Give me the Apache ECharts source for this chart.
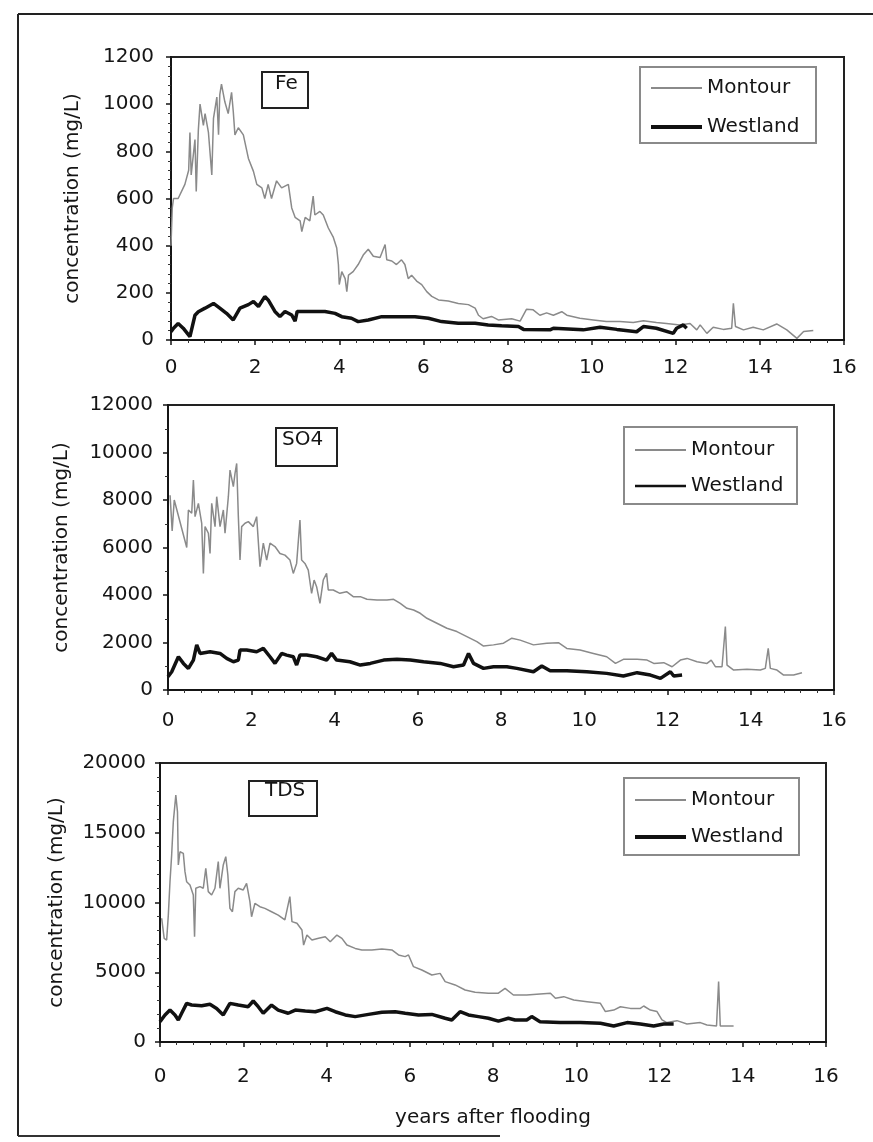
<!DOCTYPE html>
<html>
<head>
<meta charset="utf-8">
<script src="https://cdn.jsdelivr.net/npm/echarts@6/dist/echarts.min.js"></script>
<style>
  body { margin: 0; background: #fff; }
  #chart { width: 873px; height: 1142px; }
</style>
</head>
<body>
<div id="chart"></div>
<script>
// panels, top to bottom
var panelNames = ['Fe', 'SO4', 'TDS'];
var seriesNames = ['Montour', 'Westland'];
var xTicks = [0, 2, 4, 6, 8, 10, 12, 14, 16];
var yMax = [1200, 12000, 20000];
var yStep = [200, 2000, 5000];

// [years after flooding, mg/L]
var feMontour = [[0,400],[0.03,560],[0.06,600],[0.17,600],[0.33,660],[0.42,720],[0.45,880],[0.48,700],[0.57,850],[0.6,630],[0.65,890],[0.69,1000],[0.77,910],[0.81,960],[0.89,880],[0.97,700],[1.01,940],[1.09,1030],[1.13,870],[1.16,1040],[1.2,1085],[1.28,1010],[1.36,960],[1.44,1050],[1.48,970],[1.52,870],[1.6,900],[1.72,870],[1.84,770],[1.96,715],[2.04,660],[2.16,645],[2.23,600],[2.31,660],[2.39,600],[2.51,675],[2.63,645],[2.79,660],[2.87,560],[2.95,520],[3.07,505],[3.11,460],[3.19,520],[3.3,505],[3.38,610],[3.42,530],[3.54,545],[3.62,530],[3.74,475],[3.86,435],[3.94,390],[3.98,320],[4.0,235],[4.06,290],[4.14,260],[4.18,205],[4.22,275],[4.33,290],[4.45,320],[4.57,360],[4.69,385],[4.81,355],[4.97,350],[5.09,405],[5.13,340],[5.25,335],[5.36,320],[5.48,340],[5.56,320],[5.64,260],[5.72,275],[5.84,250],[5.96,235],[6.08,205],[6.2,185],[6.36,170],[6.59,165],[6.83,155],[7.07,150],[7.23,135],[7.31,105],[7.42,90],[7.62,100],[7.78,85],[8.1,90],[8.3,80],[8.45,130],[8.61,128],[8.77,105],[8.93,115],[9.09,105],[9.29,120],[9.41,105],[9.72,92],[10.04,85],[10.35,78],[10.67,78],[10.99,74],[11.23,82],[11.54,74],[11.78,70],[12.1,64],[12.34,70],[12.5,43],[12.58,64],[12.74,28],[12.89,54],[13.13,45],[13.33,50],[13.37,156],[13.42,57],[13.61,43],[13.84,54],[14.08,43],[14.4,68],[14.64,43],[14.88,7],[15.04,36],[15.27,40]];
var feWestland = [[0,35],[0.06,50],[0.17,70],[0.29,50],[0.45,14],[0.57,105],[0.65,120],[0.81,135],[1.01,155],[1.16,135],[1.32,113],[1.48,85],[1.64,135],[1.84,150],[1.96,163],[2.08,142],[2.23,184],[2.31,170],[2.47,121],[2.59,99],[2.71,121],[2.87,106],[2.95,80],[3.0,121],[3.11,121],[3.34,121],[3.66,121],[3.9,113],[4.06,99],[4.29,92],[4.45,78],[4.69,85],[5.01,99],[5.4,99],[5.8,99],[6.12,92],[6.43,78],[6.83,71],[7.23,71],[7.54,64],[7.86,60],[8.26,57],[8.38,45],[9.01,43],[9.09,50],[9.8,43],[10.2,54],[10.6,45],[11.07,35],[11.23,57],[11.54,50],[11.94,28],[12.02,50],[12.18,64],[12.26,50]];

var so4Montour = [[0.05,8200],[0.1,6700],[0.15,8000],[0.45,6000],[0.49,7580],[0.57,7440],[0.61,8840],[0.65,7300],[0.73,7860],[0.81,7020],[0.85,4910],[0.89,6880],[0.97,6600],[1.01,5750],[1.05,7860],[1.13,6880],[1.17,8140],[1.25,6880],[1.33,7580],[1.37,6600],[1.45,8140],[1.49,9260],[1.57,8560],[1.61,9120],[1.65,9540],[1.69,7300],[1.73,5470],[1.77,6880],[1.85,7020],[1.93,7090],[2.05,6880],[2.13,7300],[2.21,5190],[2.29,6180],[2.37,5470],[2.45,6180],[2.57,6040],[2.69,5750],[2.81,5680],[2.93,5470],[3.01,4910],[3.09,5330],[3.17,7160],[3.21,5470],[3.29,5330],[3.37,5050],[3.45,4070],[3.51,4630],[3.57,4350],[3.65,3650],[3.73,4630],[3.81,4910],[3.85,4210],[3.97,4210],[4.13,4070],[4.29,4140],[4.45,3930],[4.62,3930],[4.78,3820],[5.02,3790],[5.26,3790],[5.42,3820],[5.58,3650],[5.74,3440],[5.9,3370],[6.06,3230],[6.22,3020],[6.46,2810],[6.7,2600],[6.94,2460],[7.18,2250],[7.42,2040],[7.58,1850],[7.82,1900],[8.06,1970],[8.26,2180],[8.46,2100],[8.78,1900],[9.1,1970],[9.38,1990],[9.58,1750],[9.9,1680],[10.22,1540],[10.54,1400],[10.75,1120],[10.94,1290],[11.27,1290],[11.51,1260],[11.67,1120],[11.91,1150],[12.11,980],[12.31,1260],[12.47,1330],[12.71,1190],[12.95,1120],[13.05,1260],[13.15,980],[13.31,980],[13.39,2670],[13.43,1050],[13.59,840],[13.91,870],[14.23,840],[14.35,910],[14.42,1750],[14.47,910],[14.63,840],[14.79,630],[15.03,630],[15.23,730]];
var so4Westland = [[0,560],[0.09,770],[0.25,1400],[0.37,1120],[0.49,910],[0.61,1260],[0.69,1900],[0.77,1540],[1.01,1610],[1.25,1540],[1.41,1330],[1.57,1190],[1.69,1260],[1.73,1680],[1.89,1680],[2.13,1610],[2.29,1750],[2.45,1400],[2.57,1120],[2.73,1540],[2.85,1470],[3.01,1400],[3.09,1050],[3.17,1470],[3.33,1470],[3.57,1400],[3.81,1260],[3.93,1540],[4.05,1260],[4.37,1190],[4.62,1050],[4.86,1120],[5.18,1260],[5.5,1290],[5.82,1260],[6.14,1190],[6.54,1120],[6.86,980],[7.1,1050],[7.22,1540],[7.34,1120],[7.58,910],[7.82,980],[8.14,980],[8.38,910],[8.78,770],[8.98,1010],[9.18,810],[9.58,810],[10.06,770],[10.54,700],[10.94,590],[11.27,730],[11.59,630],[11.83,490],[12.07,770],[12.15,590],[12.35,630]];

var tdsMontour = [[0.04,8870],[0.1,7430],[0.16,7310],[0.2,9100],[0.24,11490],[0.28,13400],[0.32,15800],[0.38,17700],[0.42,16500],[0.44,12690],[0.48,13640],[0.56,13520],[0.6,12210],[0.64,11490],[0.72,11250],[0.8,10540],[0.83,7550],[0.86,11020],[0.96,11140],[1.04,11020],[1.1,12450],[1.16,10780],[1.24,10540],[1.32,11020],[1.4,12930],[1.44,11020],[1.52,12690],[1.58,13290],[1.63,11970],[1.68,9580],[1.74,9340],[1.8,10780],[1.88,11020],[2.0,10900],[2.08,11370],[2.16,10060],[2.2,8980],[2.28,9940],[2.4,9700],[2.52,9580],[2.68,9340],[2.84,9100],[3.0,8750],[3.12,10420],[3.17,8630],[3.29,8510],[3.41,8030],[3.45,6950],[3.53,7670],[3.65,7310],[3.81,7430],[3.97,7550],[4.09,7190],[4.25,7670],[4.37,7430],[4.49,6950],[4.69,6710],[4.85,6600],[5.09,6600],[5.33,6670],[5.57,6600],[5.73,6240],[5.89,6120],[5.97,6240],[6.09,5400],[6.29,5160],[6.53,4800],[6.73,4920],[6.85,4330],[7.09,4090],[7.33,3730],[7.57,3560],[7.89,3490],[8.13,3500],[8.29,3850],[8.49,3370],[8.81,3370],[9.13,3440],[9.38,3490],[9.5,3130],[9.7,3250],[9.94,3010],[10.26,2890],[10.58,2770],[10.7,2180],[10.9,2290],[11.06,2530],[11.3,2410],[11.54,2410],[11.62,2580],[11.78,2290],[11.94,2180],[12.06,1580],[12.18,1390],[12.42,1530],[12.66,1290],[12.98,1390],[13.14,1220],[13.37,1150],[13.42,4330],[13.46,1150],[13.78,1150]];
var tdsWestland = [[0,1460],[0.12,1940],[0.24,2290],[0.36,1940],[0.44,1580],[0.52,2060],[0.64,2770],[0.76,2650],[1.0,2600],[1.2,2700],[1.36,2410],[1.52,1940],[1.68,2770],[1.88,2650],[2.12,2530],[2.24,2940],[2.36,2530],[2.48,2060],[2.68,2650],[2.84,2290],[3.08,2060],[3.25,2290],[3.49,2220],[3.73,2170],[4.01,2410],[4.21,2170],[4.45,1940],[4.69,1820],[5.01,1980],[5.33,2130],[5.65,2170],[5.89,2060],[6.21,1940],[6.53,1980],[6.85,1700],[7.01,1580],[7.21,2170],[7.41,1940],[7.65,1820],[7.89,1700],[8.13,1500],[8.37,1700],[8.53,1580],[8.81,1580],[8.93,1820],[9.13,1460],[9.61,1390],[10.1,1390],[10.58,1340],[10.9,1150],[11.22,1390],[11.54,1290],[11.86,1150],[12.1,1290],[12.34,1290]];

var panelData = [[feMontour, feWestland], [so4Montour, so4Westland], [tdsMontour, tdsWestland]];

var font = 'DejaVu Sans';
var ink = '#151515';
var grids = [
    { left: 171, top: 57, width: 673, height: 283 },
    { left: 168, top: 405, width: 666, height: 285 },
    { left: 160, top: 763, width: 666, height: 279 }
];
var xLabelMargin = [18, 21, 25];
var yLabelMargin = [17, 15, 14];
var yNameGap = [88, 96, 93];
var yMinorSplit = [5, 2, 5];
// legend frame [x, y, w, h], sample line x, row centres, sample widths
var legendBox = [[640, 67, 176, 76], [624, 427, 173, 77], [624, 778, 175, 77]];
var legendLineX = [651, 635, 635];
var legendRowY = [[88, 127], [450, 486], [800, 837]];
var legendLineH = [[2, 4], [2, 2.5], [2, 4]];
var titleBox = [
    { left: 262, top: 72, padding: [2, 11, 14, 13] },
    { left: 276, top: 428, padding: [2, 14, 16, 6] },
    { left: 249, top: 781, padding: [0, 12, 15, 16] }
];
var lineColors = ['#8a8a8a', '#111111'];
var lineWidths = [1.5, 3.5];

var chart = echarts.init(document.getElementById('chart'));

var xAxes = [], yAxes = [], series = [], legends = [], titles = [];
var frames = [
    { type: 'line', shape: { x1: 18, y1: 14, x2: 873, y2: 14 }, style: { stroke: '#222', lineWidth: 2 } },
    { type: 'line', shape: { x1: 18, y1: 14, x2: 18, y2: 1136 }, style: { stroke: '#222', lineWidth: 2 } },
    { type: 'line', shape: { x1: 18, y1: 1136, x2: 500, y2: 1136 }, style: { stroke: '#333', lineWidth: 2 } }
];

grids.forEach(function (g, i) {
    g.show = true;
    g.borderColor = '#222';
    g.borderWidth = 2;

    xAxes.push({
        gridIndex: i, type: 'value', min: 0, max: xTicks[xTicks.length - 1], interval: 2,
        name: i === 2 ? 'years after flooding' : '',
        nameLocation: 'middle', nameGap: 66,
        nameTextStyle: { fontFamily: font, fontSize: 20, color: ink },
        axisLine: { onZero: false, lineStyle: { color: ink, width: 2 } },
        axisTick: { length: 5, lineStyle: { color: ink, width: 1.5 } },
        minorTick: { show: true, splitNumber: 5, length: 3, lineStyle: { color: '#333', width: 1 } },
        splitLine: { show: false },
        axisLabel: { fontFamily: font, fontSize: 20, color: ink, margin: xLabelMargin[i] }
    });
    yAxes.push({
        gridIndex: i, type: 'value', min: 0, max: yMax[i], interval: yStep[i],
        name: 'concentration (mg/L)',
        nameLocation: 'middle', nameGap: yNameGap[i],
        nameTextStyle: { fontFamily: font, fontSize: 20, color: ink },
        axisLine: { show: true, lineStyle: { color: ink, width: 2 } },
        axisTick: { show: true, length: 5, lineStyle: { color: ink, width: 1.5 } },
        minorTick: { show: true, splitNumber: yMinorSplit[i], length: 3, lineStyle: { color: '#333', width: 1 } },
        splitLine: { show: false },
        axisLabel: {
            fontFamily: font, fontSize: 20, color: ink, margin: yLabelMargin[i],
            formatter: function (v) { return String(v); }
        }
    });

    seriesNames.forEach(function (name, k) {
        series.push({
            name: name, type: 'line',
            xAxisIndex: i, yAxisIndex: i,
            data: panelData[i][k],
            symbol: 'none', showSymbol: false,
            color: lineColors[k],
            lineStyle: { color: lineColors[k], width: lineWidths[k] },
            z: 2 + k
        });
        // one legend per entry so each sample line gets its own thickness
        legends.push({
            left: legendLineX[i], top: legendRowY[i][k] - 12,
            data: [name],
            icon: 'rect',
            itemWidth: 51, itemHeight: legendLineH[i][k],
            padding: 0,
            textStyle: { fontFamily: font, fontSize: 20, color: ink, lineHeight: 24 }
        });
    });

    var b = legendBox[i];
    frames.push({
        type: 'rect', shape: { x: b[0], y: b[1], width: b[2], height: b[3] },
        style: { fill: 'none', stroke: '#8a8a8a', lineWidth: 2 }
    });

    titles.push({
        text: panelNames[i],
        left: titleBox[i].left, top: titleBox[i].top,
        padding: titleBox[i].padding,
        borderColor: '#222', borderWidth: 2,
        textStyle: { fontFamily: font, fontSize: 20, fontWeight: 'normal', color: ink, lineHeight: 20 }
    });
});

chart.setOption({
    backgroundColor: '#fff',
    animation: false,
    title: titles,
    legend: legends,
    grid: grids,
    xAxis: xAxes,
    yAxis: yAxes,
    series: series,
    graphic: frames
});
</script>
</body>
</html>
